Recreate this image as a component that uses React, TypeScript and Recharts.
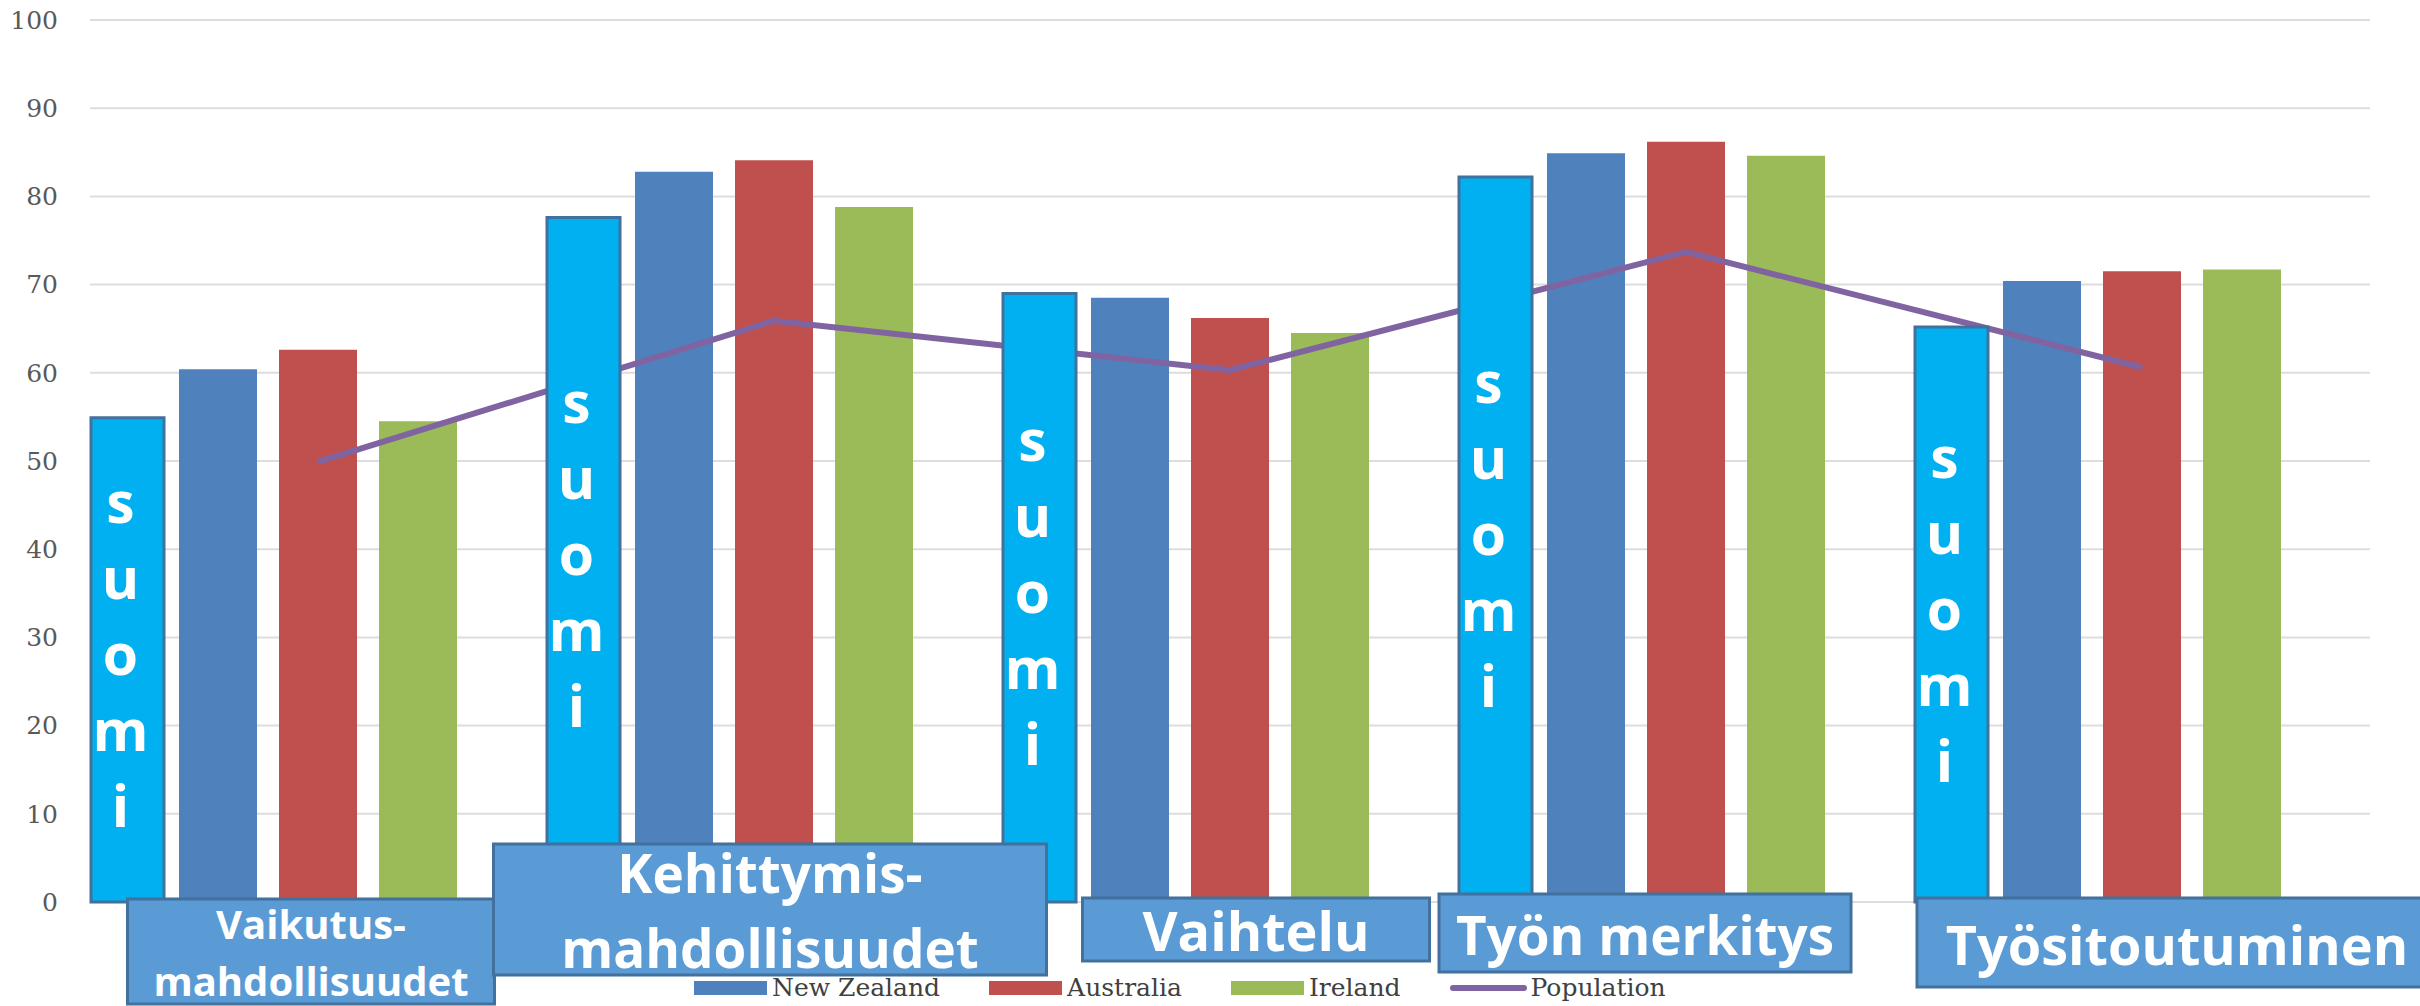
import React from 'react';
import { ComposedChart, Bar, Line, XAxis, YAxis, CartesianGrid, Legend, LabelList } from 'recharts';

const categories = ['Vaikutus-mahdollisuudet', 'Kehittymis-mahdollisuudet', 'Vaihtelu', 'Työn merkitys', 'Työsitoutuminen'];
const categoryLines = [['Vaikutus-', 'mahdollisuudet'], ['Kehittymis-', 'mahdollisuudet'], ['Vaihtelu'], ['Työn merkitys'], ['Työsitoutuminen']];
const suomi = [54.9, 77.6, 69.0, 82.2, 65.2];
const newZealand = [60.4, 82.8, 68.5, 84.9, 70.4];
const australia = [62.6, 84.1, 66.2, 86.2, 71.5];
const ireland = [54.5, 78.8, 64.5, 84.6, 71.7];
const population = [49.9, 65.9, 60.3, 73.7, 60.6];
const yTicks = [0, 10, 20, 30, 40, 50, 60, 70, 80, 90, 100];
const legendOrder = ['New Zealand', 'Australia', 'Ireland', 'Population'];
const SUOMI_WORD = 'suomi';

const COLORS = {
    suomi: '#00B0F0',
    outline: '#41719C',
    newZealand: '#4F81BD',
    australia: '#C0504D',
    ireland: '#9BBB59',
    population: '#8064A2',
    box: '#5B9BD5',
};

// hand-placed label boxes under each category (offsets from the tick)
const LABEL_BOXES = [
    { dx: -7, top: -3, width: 367, height: 105, fontSize: 40, baselines: [40, 97] },
    { dx: -4, top: -58, width: 553, height: 131, fontSize: 53, baselines: [49, 124] },
    { dx: 26, top: -4, width: 347, height: 63, fontSize: 54, baselines: [53] },
    { dx: -41, top: -8, width: 412, height: 78, fontSize: 53, baselines: [61] },
    { dx: 35, top: -4, width: 520, height: 89, fontSize: 54, baselines: [67] },
];

const LABEL_FONT = "'Open Sans', 'Noto Sans', sans-serif";

const data = categories.map((name, i) => ({
    name,
    suomi: suomi[i],
    newZealand: newZealand[i],
    australia: australia[i],
    ireland: ireland[i],
    population: population[i],
}));

const CategoryBox = (props: any) => {
    const { x, y, payload } = props;
    const i = categories.indexOf(payload.value);
    if (i < 0) return null;
    const b = LABEL_BOXES[i];
    const cx = x + b.dx;
    const top = y + b.top;
    return (
        <g>
            <rect x={cx - b.width / 2} y={top} width={b.width} height={b.height} fill={COLORS.box} stroke={COLORS.outline} strokeWidth={3} />
            {categoryLines[i].map((line, k) => (
                <text key={k} x={cx} y={top + b.baselines[k]} textAnchor="middle" fill="#fff" fontFamily={LABEL_FONT} fontWeight={700} fontSize={b.fontSize}>
                    {line}
                </text>
            ))}
        </g>
    );
};

const SuomiLetters = (props: any) => {
    const { x, y, width, height } = props;
    const fs = 57;
    const pitch = 76;
    const cx = x + width / 2 - 7;
    const cy = y + height / 2;
    const letters = SUOMI_WORD.split('');
    return (
        <g>
            {letters.map((ch, k) => (
                <text key={k} x={cx} y={cy + (k - (letters.length - 1) / 2) * pitch + fs * 0.27} textAnchor="middle" fill="#fff" fontFamily={LABEL_FONT} fontWeight={700} fontSize={fs}>
                    {ch}
                </text>
            ))}
        </g>
    );
};

const renderLegend = (props: any) => {
    const items = (props.payload || [])
        .filter((p: any) => p.type !== 'none' && legendOrder.includes(p.value))
        .sort((a: any, b: any) => legendOrder.indexOf(a.value) - legendOrder.indexOf(b.value));
    return (
        <div style={{ display: 'flex', alignItems: 'center', fontFamily: "'DejaVu Serif', serif", fontSize: 25, color: '#404040', whiteSpace: 'nowrap' }}>
            {items.map((p: any) => (
                <div key={p.value} style={{ display: 'flex', alignItems: 'center', marginRight: 49 }}>
                    {p.type === 'line' ? (
                        <span style={{ display: 'inline-block', width: 77, height: 6, borderRadius: 3, background: p.color, marginRight: 4 }} />
                    ) : (
                        <span style={{ display: 'inline-block', width: 73, height: 14, background: p.color, marginRight: 5 }} />
                    )}
                    <span>{p.value}</span>
                </div>
            ))}
        </div>
    );
};

const App: React.FC = () => {
    return (
        <div style={{ position: 'absolute', left: 0, top: 0, width: 2420, height: 1006, background: '#fff', overflow: 'hidden' }}>
            <ComposedChart width={2420} height={1006} data={data} margin={{ top: 20, right: 50, bottom: 103, left: 0 }} barGap={22}>
                <CartesianGrid vertical={false} stroke="#DDDDDD" strokeWidth={2} />
                <YAxis
                    domain={[0, 100]}
                    ticks={yTicks}
                    interval={0}
                    width={90}
                    axisLine={false}
                    tickLine={false}
                    tickSize={0}
                    tickMargin={32}
                    tick={{ fill: '#595959', fontSize: 25, fontFamily: "'DejaVu Serif', serif" }}
                />
                <XAxis xAxisId="suomi" dataKey="name" hide height={1} padding={{ left: -191, right: 191 }} />
                <Bar dataKey="newZealand" name="New Zealand" fill={COLORS.newZealand} barSize={78} isAnimationActive={false} />
                <Bar dataKey="australia" name="Australia" fill={COLORS.australia} barSize={78} isAnimationActive={false} />
                <Bar dataKey="ireland" name="Ireland" fill={COLORS.ireland} barSize={78} isAnimationActive={false} />
                <Line dataKey="population" name="Population" type="linear" stroke={COLORS.population} strokeWidth={6} dot={false} activeDot={false} isAnimationActive={false} />
                <Bar
                    xAxisId="suomi"
                    dataKey="suomi"
                    name="suomi"
                    legendType="none"
                    fill={COLORS.suomi}
                    stroke={COLORS.outline}
                    strokeWidth={3}
                    barSize={73}
                    isAnimationActive={false}
                    {...({ zIndex: 450 } as any)}
                >
                    <LabelList dataKey="suomi" content={SuomiLetters} />
                </Bar>
                <XAxis
                    dataKey="name"
                    height={1}
                    interval={0}
                    axisLine={false}
                    tickLine={false}
                    tickSize={0}
                    tickMargin={0}
                    tick={CategoryBox}
                />
                <Legend
                    content={renderLegend}
                    itemSorter={(item: any) => legendOrder.indexOf(item.value)}
                    layout="horizontal"
                    verticalAlign="middle"
                    align="center"
                    wrapperStyle={{ top: 973, left: 694, width: 'auto', height: 'auto' }}
                />
            </ComposedChart>
        </div>
    );
};

export default App;
